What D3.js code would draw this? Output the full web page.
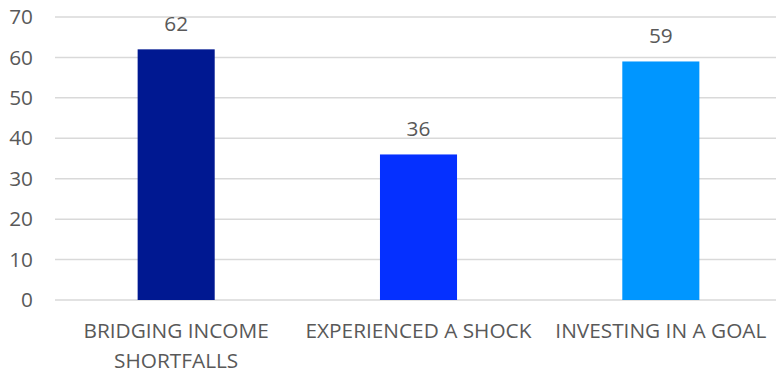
<!DOCTYPE html>
<html>
<head>
<meta charset="utf-8">
<script src="https://cdn.jsdelivr.net/npm/d3@7"></script>
<style>
  html, body { margin: 0; padding: 0; background: #fff; }
  svg { display: block; }
  text { font-family: "Open Sans", "Noto Sans", sans-serif; fill: #595959; }
</style>
</head>
<body>
<div id="chart"></div>
<script>
// Chart data
const categories = [["BRIDGING INCOME", "SHORTFALLS"], ["EXPERIENCED A SHOCK"], ["INVESTING IN A GOAL"]];
const values = [62, 36, 59];
const barColors = ["#001891", "#0530FF", "#0096FF"];
const yTicks = [0, 10, 20, 30, 40, 50, 60, 70];

const width = 776, height = 373;
const plot = { left: 55, right: 782, top: 17, bottom: 300 };
const fontSize = 20.8;

const svg = d3.select("#chart").append("svg")
  .attr("width", width).attr("height", height);

const x = d3.scaleBand()
  .domain(categories.map((d, i) => i))
  .range([plot.left, plot.right])
  .paddingInner(0.682)
  .paddingOuter(0.341);

const y = d3.scaleLinear()
  .domain([0, 70])
  .range([plot.bottom, plot.top]);

// Gridlines
svg.append("g")
  .selectAll("line")
  .data(yTicks)
  .join("line")
  .attr("x1", plot.left).attr("x2", width)
  .attr("y1", d => y(d)).attr("y2", d => y(d))
  .attr("stroke", "#d9d9d9").attr("stroke-width", 1.5);

// Y axis labels
const yAxis = d3.axisLeft(y).tickValues(yTicks).tickSize(0).tickPadding(0);
const gy = svg.append("g").attr("transform", `translate(33,0)`).call(yAxis);
gy.select(".domain").remove();
gy.selectAll("text")
  .attr("font-size", fontSize)
  .attr("fill", "#595959")
  .attr("font-family", "\"Open Sans\", sans-serif");

// Bars
svg.append("g")
  .selectAll("rect")
  .data(values)
  .join("rect")
  .attr("x", (d, i) => x(i))
  .attr("width", x.bandwidth())
  .attr("y", d => y(d))
  .attr("height", d => y(0) - y(d))
  .attr("fill", (d, i) => barColors[i]);

// Value labels
svg.append("g")
  .selectAll("text")
  .data(values)
  .join("text")
  .attr("x", (d, i) => x(i) + x.bandwidth() / 2)
  .attr("y", d => y(d) - 18)
  .attr("text-anchor", "middle")
  .attr("font-size", fontSize)
  .attr("fill", "#404040")
  .text(d => d);

// Category labels
const cat = svg.append("g")
  .selectAll("text")
  .data(categories)
  .join("text")
  .attr("x", (d, i) => x(i) + x.bandwidth() / 2)
  .attr("y", 338)
  .attr("text-anchor", "middle")
  .attr("font-size", fontSize);
cat.selectAll("tspan")
  .data(d => d)
  .join("tspan")
  .attr("x", function () { return d3.select(this.parentNode).attr("x"); })
  .attr("dy", (d, j) => j === 0 ? 0 : 30)
  .text(d => d);
</script>
</body>
</html>
